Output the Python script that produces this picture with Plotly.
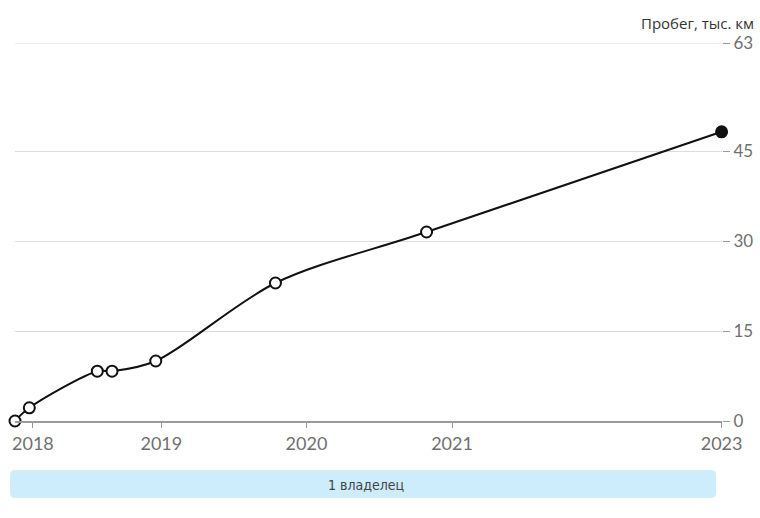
import plotly.graph_objects as go

dates = ["2017-12-29", "2018-02-03", "2018-07-24", "2018-08-30", "2018-12-18",
         "2019-10-15", "2020-10-29", "2022-11-10"]
mileage = [0, 2.2, 8.3, 8.3, 10.0, 23.0, 31.5, 48.2]

tick_dates = ["2018-02-12", "2019-01-01", "2020-01-01", "2021-01-01", "2022-11-10"]
tick_labels = ["2018", "2019", "2020", "2021", "2023"]
y_ticks = [0, 15, 30, 45, 63]

owners_label = "1 владелец"
y_title = "Пробег, тыс. км"

W, H = 760, 518
L, R, T, B = 15, 38, 43, 97
pw, ph = W - L - R, H - T - B

fig = go.Figure()
fig.add_trace(go.Scatter(
    x=dates, y=mileage, mode="lines+markers",
    line=dict(color="#111", width=2, shape="spline", smoothing=0.9),
    marker=dict(size=11, color=["white"] * (len(dates) - 1) + ["#111"],
                line=dict(color="#111", width=2)),
    cliponaxis=False, hoverinfo="skip", showlegend=False,
))

def px(x):
    return (x - L) / pw

def py(y):
    return (H - B - y) / ph

rx, ry = 5 / pw, 5 / ph
x0, x1, y0, y1 = px(10), px(716), py(498), py(470)
path = (f"M {x0+rx},{y0} L {x1-rx},{y0} Q {x1},{y0} {x1},{y0+ry} "
        f"L {x1},{y1-ry} Q {x1},{y1} {x1-rx},{y1} L {x0+rx},{y1} "
        f"Q {x0},{y1} {x0},{y1-ry} L {x0},{y0+ry} Q {x0},{y0} {x0+rx},{y0} Z")

fig.update_layout(
    width=W, height=H,
    margin=dict(l=L, r=R, t=T, b=B),
    paper_bgcolor="white", plot_bgcolor="white",
    xaxis=dict(type="date", range=["2017-12-29", "2022-11-11"],
               tickvals=tick_dates, ticktext=tick_labels, automargin=False,
               showgrid=False, zeroline=False,
               showline=True, linecolor="#9a9a9a", linewidth=2,
               ticks="outside", ticklen=5, tickcolor="#9a9a9a", tickwidth=1,
               tickfont=dict(family="Lato", size=18, color="#6f6f6f")),
    yaxis=dict(range=[0, 63], side="right", tickvals=y_ticks, automargin=False,
               showgrid=True, gridcolor="#dcdcdc", gridwidth=1,
               zeroline=False, showline=False,
               ticks="outside", ticklen=7, tickcolor="#9a9a9a",
               tickfont=dict(family="Lato", size=17, color="#6f6f6f")),
    shapes=[
        dict(type="path", path=path, xref="paper", yref="paper",
             fillcolor="#cdecfc", line=dict(width=0), layer="below"),
        dict(type="line", xref="paper", yref="y", x0=0, x1=1, y0=y_ticks[-1], y1=y_ticks[-1],
             line=dict(color="#dcdcdc", width=1), layer="below"),
    ],
    annotations=[
        dict(text=owners_label, x=px(366), y=py(485), xref="paper", yref="paper",
             xanchor="center", yanchor="middle", showarrow=False,
             font=dict(family="DejaVu Sans Condensed, DejaVu Sans", size=14, color="#444")),
        dict(text=y_title, x=px(639), y=py(23), xref="paper", yref="paper",
             xanchor="left", yanchor="middle", showarrow=False,
             font=dict(family="Open Sans", size=15, color="#333")),
    ],
)

fig.write_html("out.html")
